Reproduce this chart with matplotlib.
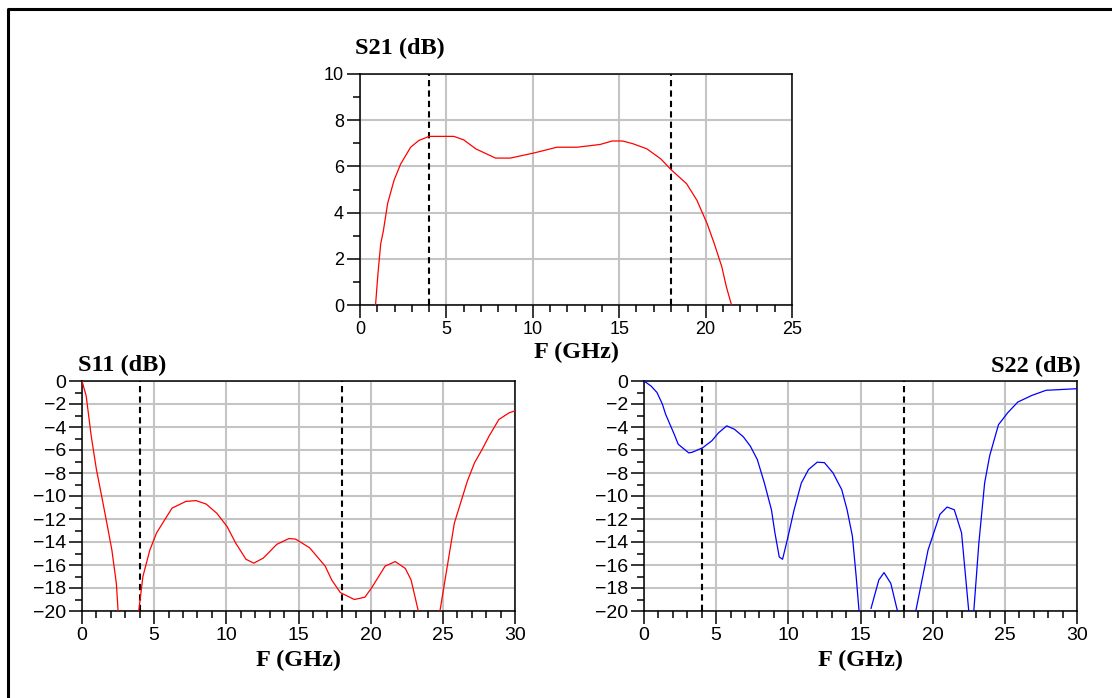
import numpy as np
import matplotlib
matplotlib.use('Agg')
import matplotlib.pyplot as plt
from matplotlib.lines import Line2D

nan = np.nan

# S21 (dB) vs frequency (GHz)
s21_f = [0.9, 1.04, 1.2, 1.35, 1.6, 1.97, 2.35, 2.93, 3.4, 4.0, 5.43, 6.0, 6.7, 7.84, 8.7,
         10.06, 11.4, 12.56, 13.9, 14.6, 15.2, 15.8, 16.6, 17.4, 18.0, 18.9, 19.5, 20.1,
         20.5, 20.94, 21.2, 21.5]
s21_db = [0.0, 1.37, 2.66, 3.2, 4.4, 5.4, 6.1, 6.83, 7.12, 7.3, 7.3, 7.15, 6.76, 6.36, 6.36,
          6.58, 6.83, 6.83, 6.95, 7.1, 7.1, 6.98, 6.76, 6.33, 5.86, 5.25, 4.53, 3.5,
          2.66, 1.65, 0.79, 0.0]

# S11 (dB), branches split where the trace leaves the -20 dB floor
s11_f = [0.0, 0.29, 0.64, 1.0, 1.36, 1.72, 2.07, 2.38, 2.5, nan,
         3.93, 4.22, 4.7, 5.17, 6.24, 7.2, 7.9, 8.6, 9.34, 10.05, 10.65, 11.36, 11.9, 12.56,
         13.5, 14.34, 14.8, 15.77, 16.85, 17.3, 17.9, 18.87, 19.6, 20.06, 21.0, 21.7, 22.4,
         22.8, 23.3, nan,
         24.8, 25.8, 26.7, 27.2, 27.7, 28.2, 28.88, 29.6, 30.0]
s11_db = [0.0, -1.3, -4.8, -7.7, -10.0, -12.35, -14.7, -17.6, -20.0, nan,
          -20.0, -17.0, -14.7, -13.2, -11.05, -10.47, -10.4, -10.7, -11.5, -12.65, -14.1, -15.5,
          -15.84, -15.4, -14.2, -13.7, -13.75, -14.5, -16.1, -17.3, -18.4, -19.0, -18.8, -18.0,
          -16.1, -15.7, -16.3, -17.3, -20.0, nan,
          -20.0, -12.35, -8.7, -7.1, -6.0, -4.8, -3.35, -2.76, -2.6]

# S22 (dB)
s22_f = [0.0, 0.49, 0.9, 1.27, 1.5, 2.1, 2.37, 3.1, 3.34, 4.07, 4.7, 5.17, 5.73, 6.27, 6.88,
         7.37, 7.85, 8.34, 8.83, 9.07, 9.37, 9.6, 9.93, 10.4, 10.9, 11.4, 12.0, 12.5, 13.1,
         13.7, 14.07, 14.44, 14.7, 14.9, nan,
         15.73, 16.27, 16.63, 17.1, 17.56, nan,
         18.83, 19.68, 20.5, 21.0, 21.5, 22.0, 22.5, nan,
         22.85, 23.2, 23.6, 23.95, 24.56, 25.2, 25.9, 26.88, 27.85, 29.07, 30.0]
s22_db = [0.0, -0.44, -1.0, -2.0, -2.9, -4.65, -5.5, -6.25, -6.2, -5.8, -5.2, -4.5, -3.9, -4.2,
          -4.85, -5.67, -6.83, -8.87, -11.2, -13.2, -15.3, -15.5, -13.8, -11.2, -8.87, -7.7,
          -7.06, -7.1, -8.0, -9.45, -11.2, -13.5, -17.0, -20.0, nan,
          -19.77, -17.3, -16.66, -17.6, -20.0, nan,
          -20.0, -14.7, -11.6, -10.96, -11.2, -13.2, -20.0, nan,
          -20.0, -14.1, -8.87, -6.5, -3.8, -2.76, -1.83, -1.25, -0.81, -0.73, -0.67]

band_edges = [4, 18]

W, H = 1112, 698
fig = plt.figure(figsize=(W / 100, H / 100), dpi=100)

def px_axes(left, top, right, bottom):
    return fig.add_axes([left / W, 1 - bottom / H, (right - left) / W, (bottom - top) / H])

def style(ax, xmax, ymin, ymax, fs):
    ax.set_xlim(0, xmax)
    ax.set_ylim(ymin, ymax)
    ax.set_xticks(np.arange(0, xmax + 1, 5))
    ax.set_xticks(np.arange(0, xmax + 1, 1), minor=True)
    ax.set_yticks(np.arange(ymin, ymax + 1, 2))
    ax.set_yticks(np.arange(ymin, ymax + 1, 1), minor=True)
    ax.grid(True, which='major', color='#c4c4c4', linewidth=1.5, zorder=0)
    ax.set_axisbelow(True)
    for s in ax.spines.values():
        s.set_linewidth(1.1)
        s.set_color('black')
    ax.tick_params(which='major', direction='out', length=9.5, width=1.1, pad=2,
                   labelsize=fs)
    ax.tick_params(which='minor', direction='out', length=5, width=1.1)
    for lab in ax.get_xticklabels() + ax.get_yticklabels():
        lab.set_fontfamily('Liberation Sans')
    for x in band_edges:
        ax.axvline(x, color='black', linewidth=1.5, linestyle=(0, (3, 2)), zorder=3)

serif = dict(family='Liberation Serif', fontweight='bold', fontsize=17.5)

# top: S21
ax1 = px_axes(360, 74, 792, 305)
style(ax1, 25, 0, 10, 13)
ax1.plot(s21_f, s21_db, color='#ff0000', linewidth=0.9, zorder=4)
fig.text(355 / W, 1 - 48 / H, 'S21 (dB)', ha='left', va='center', **serif)
fig.text(576 / W, 1 - 352 / H, 'F (GHz)', ha='center', va='center', **serif)

# bottom left: S11
ax2 = px_axes(82, 381, 515, 611)
style(ax2, 30, -20, 0, 14)
ax2.plot(s11_f, s11_db, color='#ff0000', linewidth=0.9, zorder=4)
fig.text(78 / W, 1 - 365 / H, 'S11 (dB)', ha='left', va='center', **serif)
fig.text(298 / W, 1 - 660 / H, 'F (GHz)', ha='center', va='center', **serif)

# bottom right: S22
ax3 = px_axes(644, 381, 1077, 611)
style(ax3, 30, -20, 0, 14)
ax3.plot(s22_f, s22_db, color='#0000ff', linewidth=0.9, zorder=4)
fig.text(1081 / W, 1 - 366 / H, 'S22 (dB)', ha='right', va='center', **serif)
fig.text(860 / W, 1 - 660 / H, 'F (GHz)', ha='center', va='center', **serif)

# frame around the figure (left and top edges)
fig.add_artist(Line2D([8 / W, 8 / W, 1.0], [0.0, 1 - 9 / H, 1 - 9 / H],
                      transform=fig.transFigure, color='black', linewidth=2.2))

fig.savefig('out.png', dpi=100)
